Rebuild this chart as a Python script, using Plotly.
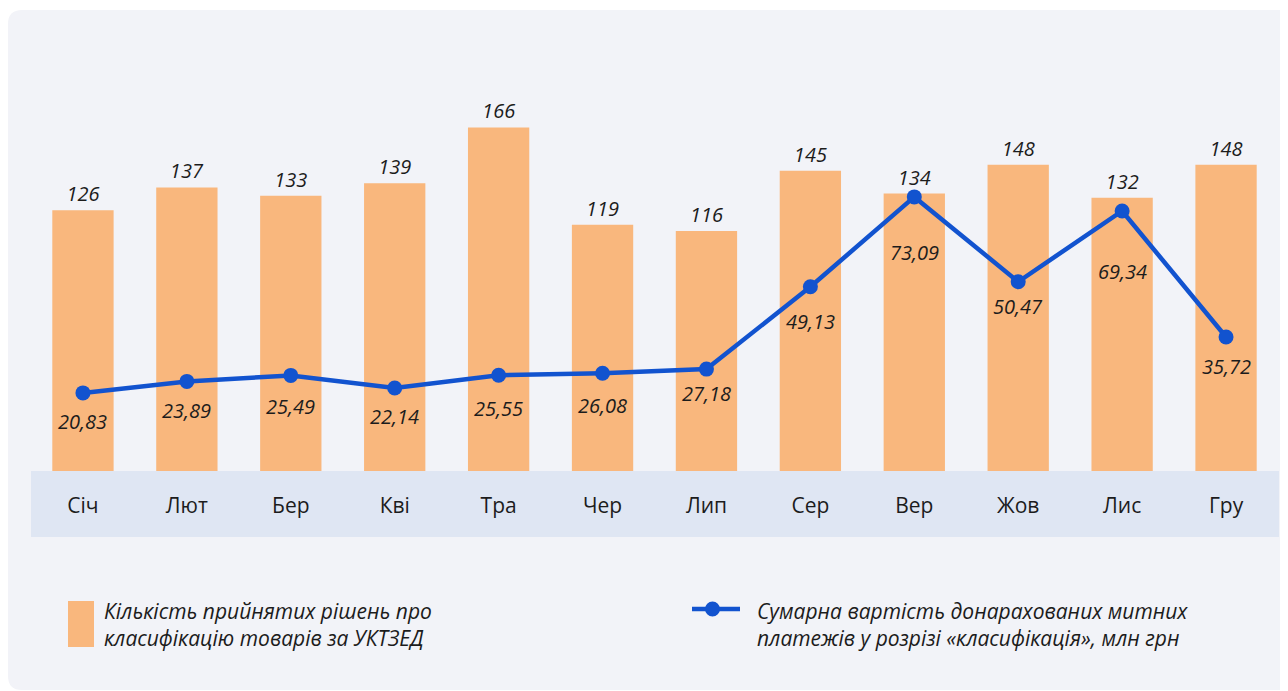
import plotly.graph_objects as go

months = ["Січ", "Лют", "Бер", "Кві", "Тра", "Чер", "Лип", "Сер", "Вер", "Жов", "Лис", "Гру"]
decisions = [126, 137, 133, 139, 166, 119, 116, 145, 134, 148, 132, 148]
payments = [20.83, 23.89, 25.49, 22.14, 25.55, 26.08, 27.18, 49.13, 73.09, 50.47, 69.34, 35.72]
bar_name = "Кількість прийнятих рішень про<br>класифікацію товарів за УКТЗЕД"
line_name = "Сумарна вартість донарахованих митних<br>платежів у розрізі «класифікація», млн грн"

# label offsets (px below the line points) – style only
line_label_shift = [29, 29, 31, 29, 33, 32, 24, 35, 56, 25, 61, 29]

OFF = 8  # page body margin
W, H = 1288 - OFF, 691 - OFF
ML, MR, MT = 31 - OFF, 10, 100 - OFF
PLOT_BOTTOM = 471 - OFF
PW = W - ML - MR
PH = PLOT_BOTTOM - MT
MB = H - PLOT_BOTTOM

def px_x(x):
    # x given in reference (screen) pixels
    return (x - OFF - ML) / PW

def px_y(y):
    return (PLOT_BOTTOM - (y - OFF)) / PH

FONT = "Open Sans"
BAR_C = "#F9B77D"
LINE_C = "#1253CF"
TXT_C = "#1c1c1c"

def fmt(v):
    return f"{v:.2f}".replace(".", ",")

fig = go.Figure()
fig.add_trace(go.Bar(
    x=months, y=decisions, width=0.59, marker_color=BAR_C, marker_line_width=0,
    text=[str(v) for v in decisions], textposition="outside",
    textfont=dict(family=FONT, size=20, color=TXT_C, style="italic"),
    cliponaxis=False, showlegend=False, yaxis="y",
))
fig.add_trace(go.Scatter(
    x=months, y=payments, mode="lines+markers", yaxis="y2",
    line=dict(color=LINE_C, width=4.5), marker=dict(size=15, color=LINE_C),
    cliponaxis=False, showlegend=False,
))

annotations = []
for m, v, s in zip(months, payments, line_label_shift):
    annotations.append(dict(x=m, y=v, xref="x", yref="y2", text=fmt(v), showarrow=False,
                            yshift=-s, font=dict(family=FONT, size=20, color=TXT_C, style="italic")))

# legend (manual)
annotations.append(dict(x=px_x(102), y=px_y(624), xref="paper", yref="paper", text=bar_name,
                        showarrow=False, xanchor="left", yanchor="middle", align="left",
                        font=dict(family=FONT, size=21, color=TXT_C, style="italic")))
annotations.append(dict(x=px_x(755), y=px_y(624), xref="paper", yref="paper", text=line_name,
                        showarrow=False, xanchor="left", yanchor="middle", align="left",
                        font=dict(family=FONT, size=21, color=TXT_C, style="italic")))

# rounded panel path
x0, y0, x1, y1, r = 8, 10, 1310, 690, 14
def P(x, y):
    return f"{px_x(x)},{px_y(y)}"
path = (f"M {P(x0 + r, y0)} L {P(x1, y0)} L {P(x1, y1)} L {P(x0 + r, y1)} "
        f"Q {P(x0, y1)} {P(x0, y1 - r)} L {P(x0, y0 + r)} Q {P(x0, y0)} {P(x0 + r, y0)} Z")

shapes = [
    dict(type="path", path=path, xref="paper", yref="paper", fillcolor="#F2F3F8",
         line_width=0, layer="below"),
    dict(type="rect", xref="paper", yref="paper", x0=px_x(31), x1=px_x(1279), y0=px_y(537), y1=px_y(471),
         fillcolor="#DFE6F3", line_width=0, layer="below"),
    dict(type="rect", xref="paper", yref="paper", x0=px_x(68), x1=px_x(94), y0=px_y(647), y1=px_y(601),
         fillcolor=BAR_C, line_width=0, layer="above"),
    dict(type="line", xref="paper", yref="paper", x0=px_x(692), x1=px_x(740), y0=px_y(609), y1=px_y(609),
         line=dict(color=LINE_C, width=4.5), layer="above"),
    dict(type="circle", xref="paper", yref="paper", x0=px_x(705), x1=px_x(720), y0=px_y(616.5), y1=px_y(601.5),
         fillcolor=LINE_C, line_width=0, layer="above"),
]

fig.update_layout(
    width=W, height=H, margin=dict(l=ML, r=MR, t=MT, b=MB, autoexpand=False),
    paper_bgcolor="white", plot_bgcolor="rgba(0,0,0,0)",
    font=dict(family=FONT, color=TXT_C),
    xaxis=dict(type="category", range=[-0.5, 11.5], showgrid=False, zeroline=False, showline=False,
               ticks="", ticklabelstandoff=20, tickfont=dict(family=FONT, size=21, color=TXT_C)),
    yaxis=dict(range=[0, PH / 2.07], visible=False, fixedrange=True),
    yaxis2=dict(range=[0, PH / 3.75], overlaying="y", visible=False, fixedrange=True),
    shapes=shapes, annotations=annotations, showlegend=False, bargap=0.41,
)

fig.write_html("out.html")
